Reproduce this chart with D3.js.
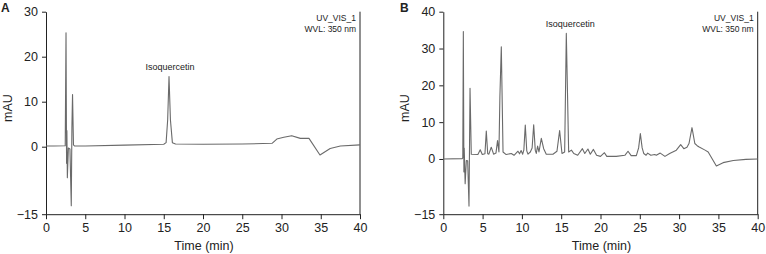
<!DOCTYPE html>
<html>
<head>
<meta charset="utf-8">
<script src="https://cdn.jsdelivr.net/npm/d3@7"></script>
<style>
  body { margin: 0; background: #fff; }
  svg text { font-family: "Liberation Sans", Arial, sans-serif; fill: #222; }
</style>
</head>
<body>
<div id="chart"></div>
<script>
// chromatogram A (standard): [time min, mAU]
const traceA = [
  [0, 0.15], [1, 0.15], [2.45, 0.2], [2.55, 25.3], [2.62, -3.7], [2.66, 3.6], [2.72, -6.9],
  [2.85, -0.3], [3.05, -0.5], [3.22, -13.1], [3.3, 4.2], [3.38, 11.6], [3.5, 0.4], [3.65, 0.15],
  [5, 0.15], [10, 0.35], [15, 0.55], [15.3, 0.9], [15.5, 6], [15.67, 15.6], [15.85, 6],
  [16.1, 0.9], [16.5, 0.6], [20, 0.55], [25, 0.6], [28.8, 0.75], [29.4, 1.7], [30.3, 2.1],
  [31.3, 2.45], [32.4, 1.85], [33.5, 1.85], [34.9, -1.85], [36.2, -0.4], [37.5, 0.15], [40, 0.4]
];

// chromatogram B (sample)
const traceB = [
  [0, 0], [2.4, 0.1], [2.48, 0.3], [2.55, 34.6], [2.62, -3.5], [2.66, 3], [2.78, -6.7],
  [2.93, -0.4], [3.1, -0.5], [3.27, -12.8], [3.4, 19.2], [3.56, 1.3], [4.4, 1.2], [4.7, 2.5],
  [4.96, 1.2], [5.3, 1.4], [5.47, 7.6], [5.65, 1.4], [5.8, 1.3], [6.1, 3.2], [6.4, 1.3],
  [6.7, 1.6], [6.9, 5.0], [7.08, 1.9], [7.2, 16.9], [7.38, 30.5], [7.6, 1.9], [8.0, 1.2],
  [8.65, 1.5], [9.0, 1.0], [9.5, 2.1], [9.7, 1.4], [9.9, 2.3], [10.1, 1.3], [10.25, 2.5],
  [10.43, 9.2], [10.62, 2.2], [10.77, 1.3], [11.07, 1.9], [11.3, 3], [11.5, 9.3], [11.7, 2.4],
  [11.83, 1.5], [12.0, 3.5], [12.17, 1.9], [12.47, 5.6], [12.77, 2.8], [13.1, 1.3],
  [13.95, 1.3], [14.46, 2.1], [14.8, 7.7], [15.1, 1.5], [15.44, 1.9], [15.65, 34.1],
  [15.95, 1.9], [16.3, 2.4], [16.6, 1.5], [17.1, 1.0], [17.7, 2.8], [18.0, 1.5], [18.4, 2.7],
  [18.7, 1.3], [19.1, 2.6], [19.5, 1.0], [20.0, 0.7], [20.5, 1.7], [20.8, 0.7], [22.0, 0.7],
  [23.1, 1.0], [23.5, 2.1], [23.9, 0.9], [24.56, 0.9], [24.85, 3], [25.07, 6.9], [25.3, 3],
  [25.5, 1.5], [25.8, 1.0], [26.0, 1.6], [26.4, 1.0], [26.9, 1.2], [27.1, 1.0], [27.6, 1.6],
  [28.2, 0.7], [28.8, 1.5], [29.65, 2.4], [30.2, 3.9], [30.6, 2.8], [31.0, 3.2], [31.26, 4.2],
  [31.64, 8.5], [32.0, 4.2], [32.3, 3.6], [32.5, 3.3], [33.3, 2.4], [33.7, 1.9], [34.74, -1.9],
  [35.6, -1.0], [36.9, -0.4], [38.5, -0.1], [40, 0]
];

const xTicks = [0, 5, 10, 15, 20, 25, 30, 35, 40];
const yTicksA = [-15, 0, 10, 20, 30];
const yTicksB = [-15, 0, 10, 20, 30, 40];

const svg = d3.select("#chart").append("svg")
  .attr("width", 766)
  .attr("height", 254);

drawPanel({
  letter: "A", data: traceA, yMax: 30, yTicks: yTicksA,
  left: 46, right: 360, top: 11.7, bottom: 214.2,
  peak: [15.67, 15.6], peakDx: 1, peakDy: -7, letterX: 1
});
drawPanel({
  letter: "B", data: traceB, yMax: 40, yTicks: yTicksB,
  left: 443.3, right: 757.7, top: 11.7, bottom: 214.2,
  peak: [15.65, 34.1], peakDx: 4, peakDy: -6, letterX: 400
});

function drawPanel(p) {
  const x = d3.scaleLinear().domain([0, 40]).range([p.left, p.right]);
  const y = d3.scaleLinear().domain([-15, p.yMax]).range([p.bottom, p.top]);
  const g = svg.append("g");

  const xAxis = g.append("g")
    .attr("transform", `translate(0,${p.bottom})`)
    .call(d3.axisBottom(x).tickValues(xTicks).tickSize(5).tickSizeOuter(0).tickPadding(4));
  const yAxis = g.append("g")
    .attr("transform", `translate(${p.left},0)`)
    .call(d3.axisLeft(y).tickValues(p.yTicks).tickSize(4).tickSizeOuter(0).tickPadding(4)
      .tickFormat(d => d < 0 ? "\u2212" + Math.abs(d) : d));
  [xAxis, yAxis].forEach(a => {
    a.selectAll("text").style("font-size", "12.5px").attr("fill", "#222");
    a.selectAll("line, path").attr("stroke", "#222");
  });

  // right border
  g.append("line")
    .attr("x1", p.right).attr("x2", p.right)
    .attr("y1", p.top).attr("y2", p.bottom)
    .attr("stroke", "#222");

  const line = d3.line().x(d => x(d[0])).y(d => y(d[1]));
  g.append("path")
    .datum(p.data)
    .attr("d", line)
    .attr("fill", "none")
    .attr("stroke", "#6a6a6a")
    .attr("stroke-width", 1.1)
    .attr("stroke-linejoin", "round");

  g.append("text")
    .attr("x", x(p.peak[0]) + p.peakDx)
    .attr("y", y(p.peak[1]) + p.peakDy)
    .attr("text-anchor", "middle")
    .style("font-size", "9px")
    .text("Isoquercetin");

  g.append("text")
    .attr("x", p.right - 4).attr("y", 21)
    .attr("text-anchor", "end")
    .style("font-size", "8.5px")
    .text("UV_VIS_1");
  g.append("text")
    .attr("x", p.right - 4).attr("y", 32)
    .attr("text-anchor", "end")
    .style("font-size", "8.5px")
    .text("WVL: 350 nm");

  g.append("text")
    .attr("x", (p.left + p.right) / 2 + 1)
    .attr("y", 250)
    .attr("text-anchor", "middle")
    .style("font-size", "12.5px")
    .text("Time (min)");

  g.append("text")
    .attr("transform", `translate(${p.left - 34},108) rotate(-90)`)
    .attr("text-anchor", "middle")
    .style("font-size", "12.5px")
    .text("mAU");

  g.append("text")
    .attr("x", p.letterX).attr("y", 12)
    .style("font-size", "12px")
    .style("font-weight", "bold")
    .text(p.letter);
}
</script>
</body>
</html>
